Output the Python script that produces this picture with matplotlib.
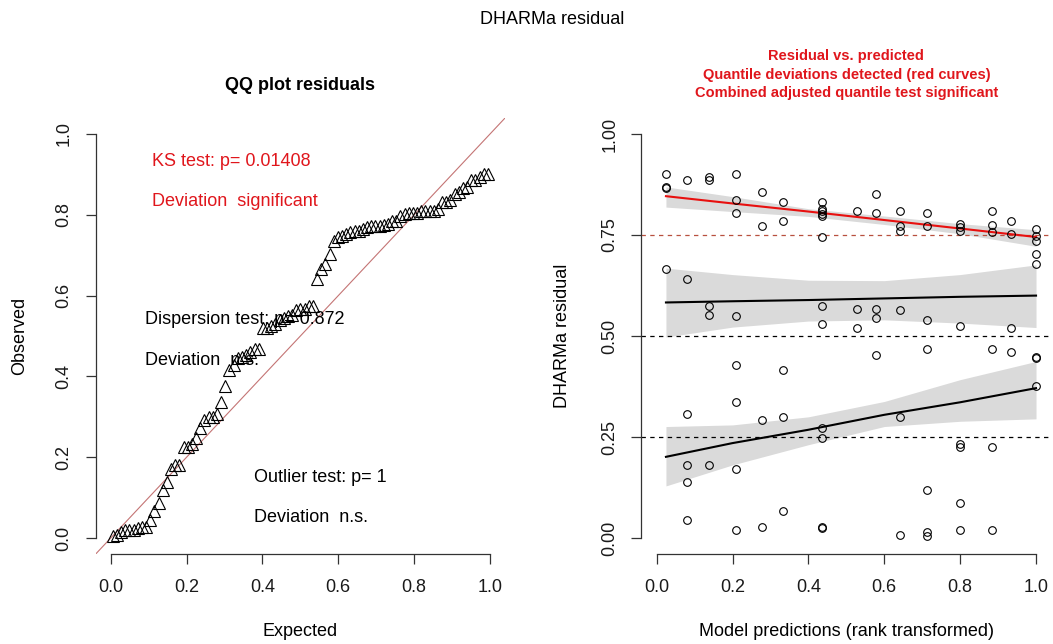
import matplotlib.pyplot as plt
import numpy as np

plt.rcParams['font.family'] = ['Liberation Sans', 'DejaVu Sans']

# rank transformed model predictions (tied ranks share one value)
rank_levels = [0.0245, 0.080, 0.138, 0.209, 0.278, 0.334, 0.437, 0.527,
               0.577, 0.642, 0.712, 0.800, 0.883, 0.935, 1.0]

# scaled residuals at each prediction rank
resid_by_level = [
    [0.902, 0.869, 0.866, 0.666],
    [0.885, 0.641, 0.308, 0.181, 0.139, 0.044],
    [0.893, 0.885, 0.575, 0.553, 0.181],
    [0.902, 0.836, 0.804, 0.549, 0.428, 0.336, 0.172, 0.021],
    [0.856, 0.773, 0.293, 0.027],
    [0.832, 0.785, 0.417, 0.300, 0.068],
    [0.831, 0.814, 0.809, 0.801, 0.796, 0.745, 0.574, 0.529, 0.272, 0.248, 0.027, 0.024],
    [0.809, 0.568, 0.519],
    [0.852, 0.804, 0.568, 0.544, 0.452],
    [0.809, 0.771, 0.760, 0.564, 0.300, 0.007],
    [0.805, 0.773, 0.540, 0.469, 0.120, 0.016, 0.004],
    [0.776, 0.770, 0.760, 0.525, 0.233, 0.225, 0.088, 0.021],
    [0.809, 0.775, 0.757, 0.469, 0.225, 0.021],
    [0.785, 0.753, 0.519, 0.461],
    [0.765, 0.748, 0.734, 0.703, 0.677, 0.447, 0.445, 0.377],
]

# quantile regression fits with confidence bands
q_x = [0.0245, 0.2, 0.4, 0.6, 0.8, 1.0]
q75_fit = [0.846, 0.828, 0.808, 0.787, 0.766, 0.745]
q75_hi = [0.869, 0.845, 0.815, 0.797, 0.778, 0.763]
q75_lo = [0.819, 0.808, 0.796, 0.776, 0.753, 0.722]
q50_fit = [0.583, 0.586, 0.589, 0.593, 0.597, 0.600]
q50_hi = [0.668, 0.652, 0.638, 0.637, 0.652, 0.676]
q50_lo = [0.4975, 0.522, 0.537, 0.540, 0.532, 0.521]
q25_fit = [0.201, 0.235, 0.268, 0.305, 0.336, 0.371]
q25_hi = [0.276, 0.280, 0.300, 0.338, 0.392, 0.437]
q25_lo = [0.129, 0.181, 0.231, 0.276, 0.289, 0.295]

pred = np.concatenate([[lv] * len(r) for lv, r in zip(rank_levels, resid_by_level)])
resid = np.concatenate(resid_by_level)

# uniform QQ: sorted residuals against ppoints(n)
n = len(resid)
observed = np.sort(resid)
expected = (np.arange(1, n + 1) - 0.5) / n

AX_COL = '#333333'
FS = 13


def r_style(ax, yticks, ylabels):
    ax.set_xlim(-0.04, 1.04)
    ax.set_ylim(-0.04, 1.04)
    for s in ['top', 'right']:
        ax.spines[s].set_visible(False)
    for s in ['left', 'bottom']:
        ax.spines[s].set_color(AX_COL)
        ax.spines[s].set_linewidth(0.9)
    ax.spines['left'].set_bounds(yticks[0], yticks[-1])
    ax.spines['bottom'].set_bounds(0, 1)
    ax.set_xticks([0, 0.2, 0.4, 0.6, 0.8, 1.0])
    ax.set_xticklabels(['0.0', '0.2', '0.4', '0.6', '0.8', '1.0'])
    ax.set_yticks(yticks)
    ax.set_yticklabels(ylabels)
    ax.tick_params(direction='out', length=7.5, width=0.9, color=AX_COL,
                   labelsize=FS, labelcolor='#1a1a1a')
    ax.tick_params(axis='x', pad=10)
    ax.tick_params(axis='y', labelrotation=90, pad=9)
    for lab in ax.get_yticklabels():
        lab.set_va('center')


fig = plt.figure(figsize=(10.53, 6.44), dpi=100)
ax1 = fig.add_axes([0.0907, 0.1394, 0.3891, 0.6777])
ax2 = fig.add_axes([0.6092, 0.1394, 0.3891, 0.6777])

fig.text(0.524, 0.969, 'DHARMa residual', ha='center', va='center', fontsize=13)

# left: QQ plot
r_style(ax1, [0, 0.2, 0.4, 0.6, 0.8, 1.0], ['0.0', '0.2', '0.4', '0.6', '0.8', '1.0'])
ax1.plot([-0.04, 1.04], [-0.04, 1.04], color='#c47474', lw=0.8, zorder=1)
ax1.plot(expected, observed, linestyle='none', marker='^', markersize=9,
         markerfacecolor='none', markeredgecolor='black', markeredgewidth=0.8, zorder=2)
ax1.set_title('QQ plot residuals', fontsize=13, fontweight='bold', pad=20)
ax1.set_xlabel('Expected', fontsize=FS)
ax1.xaxis.set_label_coords(0.5, -0.178)
ax1.xaxis.label.set_va('center')
ax1.set_ylabel('Observed', fontsize=FS)
ax1.yaxis.set_label_coords(-0.184, 0.5)
ax1.yaxis.label.set_va('center')

red = '#e0161c'
ax1.text(0.108, 0.921, 'KS test: p= 0.01408', color=red, fontsize=FS, va='baseline')
ax1.text(0.108, 0.822, 'Deviation  significant', color=red, fontsize=FS, va='baseline')
ax1.text(0.090, 0.530, 'Dispersion test: p= 0.872', color='black', fontsize=FS, va='baseline')
ax1.text(0.090, 0.428, 'Deviation  n.s.', color='black', fontsize=FS, va='baseline')
ax1.text(0.378, 0.139, 'Outlier test: p= 1', color='black', fontsize=FS, va='baseline')
ax1.text(0.378, 0.040, 'Deviation  n.s.', color='black', fontsize=FS, va='baseline')

# right: residual vs predicted
r_style(ax2, [0, 0.25, 0.5, 0.75, 1.0], ['0.00', '0.25', '0.50', '0.75', '1.00'])
band = '#dadada'
for lo, hi in [(q25_lo, q25_hi), (q50_lo, q50_hi), (q75_lo, q75_hi)]:
    ax2.fill_between(q_x, lo, hi, color=band, lw=0, zorder=1)
ax2.axhline(0.25, color='black', lw=0.9, ls=(0, (3.5, 3.5)), zorder=2)
ax2.axhline(0.50, color='black', lw=0.9, ls=(0, (3.5, 3.5)), zorder=2)
ax2.axhline(0.75, color='#b8503f', lw=0.9, ls=(0, (3.5, 3.5)), zorder=2)
ax2.plot(q_x, q25_fit, color='black', lw=1.5, zorder=3)
ax2.plot(q_x, q50_fit, color='black', lw=1.5, zorder=3)
ax2.plot(q_x, q75_fit, color='#e8100f', lw=1.5, zorder=3)
ax2.plot(pred, resid, linestyle='none', marker='o', markersize=5.5,
         markerfacecolor='none', markeredgecolor='black', markeredgewidth=0.8, zorder=4)
ax2.set_title('Residual vs. predicted\nQuantile deviations detected (red curves)\n'
              'Combined adjusted quantile test significant',
              fontsize=10.5, fontweight='bold', color=red, linespacing=1.4, pad=15)
ax2.set_xlabel('Model predictions (rank transformed)', fontsize=FS)
ax2.xaxis.set_label_coords(0.5, -0.178)
ax2.xaxis.label.set_va('center')
ax2.set_ylabel('DHARMa residual', fontsize=FS)
ax2.yaxis.set_label_coords(-0.192, 0.5)
ax2.yaxis.label.set_va('center')

fig.savefig('out.png', dpi=100)
